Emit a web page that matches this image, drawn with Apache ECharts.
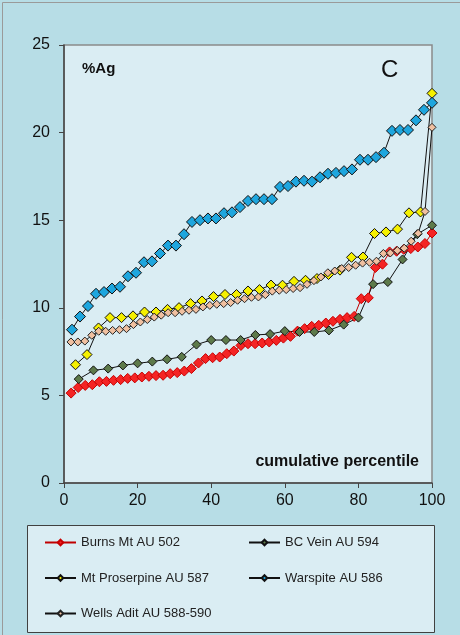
<!DOCTYPE html>
<html>
<head>
<meta charset="utf-8">
<script src="https://cdn.jsdelivr.net/npm/echarts@6/dist/echarts.min.js"></script>
<style>
html,body{margin:0;padding:0;background:#b7dde6;}
#chart{width:460px;height:635px;}
</style>
</head>
<body>
<div id="chart"></div>
<script>
// ---- data ----
const seriesNames = ["Burns Mt AU 502", "BC Vein AU 594", "Mt Proserpine AU 587", "Warspite AU 586", "Wells Adit AU 588-590"];

const burnsX = [1.92,3.85,5.77,7.69,9.62,11.54,13.46,15.38,17.31,19.23,21.15,23.08,25.00,26.92,28.85,30.77,32.69,34.62,36.54,38.46,40.38,42.31,44.23,46.15,48.08,50.00,51.92,53.85,55.77,57.69,59.62,61.54,63.46,65.38,67.31,69.23,71.15,73.08,75.00,76.92,78.85,80.77,82.69,84.62,86.54,88.46,90.38,92.31,94.23,96.15,98.08,100];
const burnsY = [5.13,5.45,5.57,5.61,5.78,5.8,5.86,5.9,5.97,6.0,6.05,6.09,6.13,6.15,6.24,6.3,6.39,6.53,6.85,7.1,7.15,7.19,7.38,7.53,7.85,7.95,7.95,7.99,8.05,8.14,8.27,8.37,8.67,8.81,8.94,9.0,9.13,9.23,9.34,9.44,9.51,10.52,10.57,12.3,12.49,13.19,13.23,13.34,13.38,13.47,13.67,14.27];

const bcX = [4,8,12,16,20,24,28,32,36,40,44,48,52,56,60,64,68,72,76,80,84,88,92,96,100];
const bcY = [5.93,6.43,6.53,6.71,6.83,6.93,7.06,7.2,7.9,8.16,8.16,8.16,8.45,8.5,8.67,8.62,8.62,8.71,9.04,9.44,11.35,11.47,12.76,14.2,14.71];

const prosX = [3.13,6.25,9.38,12.5,15.63,18.75,21.88,25,28.13,31.25,34.38,37.5,40.63,43.75,46.88,50,53.13,56.25,59.38,62.5,65.63,68.75,71.88,75,78.13,81.25,84.38,87.5,90.63,93.75,96.88,100];
const prosY = [6.75,7.33,8.85,9.44,9.44,9.54,9.76,9.76,9.91,10.01,10.24,10.39,10.64,10.76,10.76,10.96,11.04,11.3,11.29,11.51,11.57,11.67,11.9,12.15,12.88,12.9,14.24,14.33,14.49,15.42,15.47,22.24];

const warsX = [2.17,4.35,6.52,8.70,10.87,13.04,15.22,17.39,19.57,21.74,23.91,26.09,28.26,30.43,32.61,34.78,36.96,39.13,41.30,43.48,45.65,47.83,50.00,52.17,54.35,56.52,58.70,60.87,63.04,65.22,67.39,69.57,71.74,73.91,76.09,78.26,80.43,82.61,84.78,86.96,89.13,91.30,93.48,95.65,97.83,100];
const warsY = [8.75,9.5,10.1,10.8,10.9,11.1,11.2,11.8,12.0,12.6,12.65,13.1,13.55,13.55,14.2,14.9,15.0,15.1,15.1,15.4,15.45,15.75,16.1,16.2,16.2,16.2,16.9,16.95,17.2,17.25,17.2,17.45,17.65,17.7,17.8,17.9,18.45,18.45,18.6,18.85,20.1,20.15,20.15,20.7,21.3,21.7];

const wellsX = [1.89,3.77,5.66,7.55,9.43,11.32,13.21,15.09,16.98,18.87,20.75,22.64,24.53,26.42,28.30,30.19,32.08,33.96,35.85,37.74,39.62,41.51,43.40,45.28,47.17,49.06,50.94,52.83,54.72,56.60,58.49,60.38,62.26,64.15,66.04,67.92,69.81,71.70,73.58,75.47,77.36,79.25,81.13,83.02,84.91,86.79,88.68,90.57,92.45,94.34,96.23,98.11,100];
const wellsY = [8.05,8.05,8.1,8.43,8.66,8.66,8.71,8.75,8.81,9.04,9.19,9.33,9.47,9.58,9.72,9.72,9.8,9.86,9.91,10.05,10.14,10.2,10.24,10.3,10.43,10.52,10.6,10.62,10.75,10.95,11.0,11.04,11.1,11.15,11.34,11.55,11.76,12.0,12.1,12.24,12.3,12.43,12.55,12.6,12.66,13.1,13.13,13.27,13.4,13.8,14.25,15.5,20.3];

const xTicks = [0,20,40,60,80,100];
const yTicks = [0,5,10,15,20,25];

function pairs(xs, ys){ return xs.map((x,i)=>[x, ys[i]]); }

const FONT = "Liberation Sans, Arial, sans-serif";

function mkSeries(name, data, fill, border, lineColor, size){
  return {
    name: name, type: 'line', data: data,
    symbol: 'diamond', symbolSize: size,
    itemStyle: {color: fill, borderColor: border, borderWidth: 1},
    lineStyle: {color: lineColor, width: 1},
    emphasis: {disabled: true},
    animation: false, z: 3
  };
}

const legendCommon = {orient: 'vertical', top: 531, itemWidth: 31, itemHeight: 7, itemGap: 22.5,
  textStyle: {fontSize: 13, color: '#222', fontFamily: FONT}, selectedMode: false};

const chart = echarts.init(document.getElementById('chart'), null, {renderer: 'canvas'});
chart.setOption({
  backgroundColor: '#b7dde6',
  animation: false,
  grid: {left: 64, right: 28, top: 45, bottom: 152, show: true,
         backgroundColor: '#daedf3', borderColor: '#8a8a8a', borderWidth: 1.5},
  xAxis: {
    type: 'value', min: xTicks[0], max: xTicks[xTicks.length-1], interval: 20,
    axisLine: {show: true, lineStyle: {color: '#444', width: 1.5}},
    axisTick: {show: true, inside: false, length: 5, lineStyle: {color: '#444'}},
    axisLabel: {fontSize: 16, color: '#111', fontFamily: FONT, margin: 10},
    splitLine: {show: false}
  },
  yAxis: {
    type: 'value', min: yTicks[0], max: yTicks[yTicks.length-1], interval: 5,
    axisLine: {show: true, lineStyle: {color: '#444', width: 1.5}},
    axisTick: {show: true, inside: false, length: 5, lineStyle: {color: '#444'}},
    axisLabel: {fontSize: 16, color: '#111', fontFamily: FONT, margin: 14},
    splitLine: {show: false}
  },
  legend: [
    Object.assign({data: [seriesNames[0], seriesNames[2], seriesNames[4]], left: 39}, legendCommon),
    Object.assign({data: [seriesNames[1], seriesNames[3]], left: 243}, legendCommon)
  ],
  graphic: [
    {type: 'rect', left: 27, top: 525, shape: {width: 407, height: 107}, z: -1,
     style: {fill: '#daedf3', stroke: '#404040', lineWidth: 1}},
    {type: 'rect', left: 0, top: 0, shape: {width: 459, height: 634}, z: -2,
     style: {fill: 'none', stroke: '#9a9a9a', lineWidth: 1}},
    {type: 'text', left: 82, top: 61, z: 10,
     style: {text: '%Ag', font: 'bold 15px ' + FONT, fill: '#111'}},
    {type: 'text', left: 381, top: 58, z: 10,
     style: {text: 'C', font: '24px ' + FONT, fill: '#111'}},
    {type: 'text', right: 41, top: 454, z: 10,
     style: {text: 'cumulative percentile', font: 'bold 16px ' + FONT, fill: '#111', textAlign: 'right'}}
  ],
  series: [
    mkSeries(seriesNames[0], pairs(burnsX, burnsY), '#f42424', '#c80000', '#c00000', 10),
    mkSeries(seriesNames[1], pairs(bcX, bcY), '#5d7a4a', '#111', '#111', 9),
    mkSeries(seriesNames[2], pairs(prosX, prosY), '#f5f000', '#111', '#111', 10),
    mkSeries(seriesNames[3], pairs(warsX, warsY), '#1ea6de', '#111', '#111', 11),
    mkSeries(seriesNames[4], pairs(wellsX, wellsY), '#f0c0a0', '#222', '#111', 8)
  ]
});
</script>
</body>
</html>
